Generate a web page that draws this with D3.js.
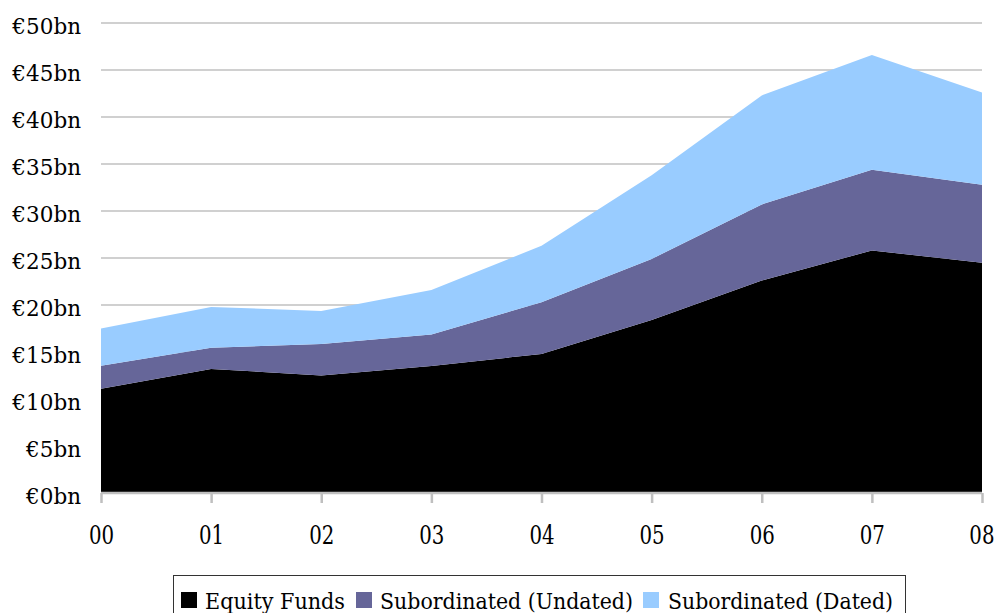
<!DOCTYPE html>
<html>
<head>
<meta charset="utf-8">
<script src="https://cdn.jsdelivr.net/npm/d3@7/dist/d3.min.js"></script>
<style>
  html, body { margin: 0; padding: 0; background: #fff; }
  svg { display: block; }
  text { font-family: "DejaVu Serif", serif; fill: #000; }
</style>
</head>
<body>
<svg id="chart" width="997" height="613"></svg>
<script>
// ---- data ----
const categories = ["00", "01", "02", "03", "04", "05", "06", "07", "08"];
const seriesNames = ["Equity Funds", "Subordinated (Undated)", "Subordinated (Dated)"];
const equityFunds = [11.1, 13.2, 12.5, 13.5, 14.8, 18.4, 22.6, 25.8, 24.5];
const subUndated  = [2.45, 2.25, 3.35, 3.35, 5.5, 6.5, 8.1, 8.6, 8.3];
const subDated    = [3.95, 4.35, 3.5, 4.75, 6.0, 8.9, 11.6, 12.2, 9.8];
const yTicks = [0, 5, 10, 15, 20, 25, 30, 35, 40, 45, 50];
const colors = ["#000000", "#666699", "#99ccff"];

// ---- layout ----
const svg = d3.select("#chart");
const mLeft = 101, mRight = 982, mTop = 23, mBottom = 493;

const x = d3.scalePoint().domain(categories).range([mLeft, mRight]);
const y = d3.scaleLinear().domain([0, 50]).range([mBottom, mTop]);

const rows = categories.map((c, i) => ({
  cat: c,
  [seriesNames[0]]: equityFunds[i],
  [seriesNames[1]]: subUndated[i],
  [seriesNames[2]]: subDated[i]
}));
const stacked = d3.stack().keys(seriesNames)(rows);

// gridlines
svg.append("g")
  .selectAll("line")
  .data(yTicks.filter(t => t > 0))
  .join("line")
  .attr("x1", mLeft).attr("x2", mRight)
  .attr("y1", d => y(d)).attr("y2", d => y(d))
  .attr("stroke", "#c0c0c0").attr("stroke-width", 1.5);

// areas
const area = d3.area()
  .x(d => x(d.data.cat))
  .y0(d => y(d[0]))
  .y1(d => y(d[1]));

svg.append("g")
  .selectAll("path")
  .data(stacked)
  .join("path")
  .attr("d", area)
  .attr("fill", (d, i) => colors[i]);

// y axis labels
const yAxis = d3.axisLeft(y).tickValues(yTicks).tickSize(0).tickPadding(20)
  .tickFormat(d => "€" + d + "bn");
const gy = svg.append("g").attr("transform", `translate(${mLeft},0)`).call(yAxis);
gy.select(".domain").remove();
gy.selectAll("text")
  .attr("font-family", "DejaVu Serif, serif")
  .attr("font-size", 21.5)
  .attr("fill", "#000")
  .attr("x", -20)
  .attr("dy", "0.5em");

// x axis
const xAxis = d3.axisBottom(x).tickSize(10).tickPadding(8).tickSizeOuter(0);
const gx = svg.append("g").attr("transform", `translate(0,${mBottom})`).call(xAxis);
gx.select(".domain").attr("stroke", "#bfbfbf").attr("stroke-width", 2.5)
  .attr("d", `M${mLeft},0H${mRight}`);
gx.selectAll(".tick line").attr("stroke", "#bfbfbf").attr("stroke-width", 2.5);
gx.selectAll(".tick text")
  .attr("font-family", "DejaVu Serif, serif")
  .attr("font-size", 26)
  .attr("fill", "#000")
  .attr("x", 0)
  .attr("y", 0)
  .attr("dy", 0)
  .attr("transform", "translate(0,51) scale(0.76,1)");
// keep the last label inside the frame, as in the reference
gx.selectAll(".tick").filter(d => d === categories[categories.length - 1])
  .select("text").attr("text-anchor", "end")
  .attr("transform", "translate(12,51) scale(0.76,1)");

// legend
const legendItems = [
  { name: seriesNames[0], color: colors[0], sx: 181, tx: 205, tw: 140 },
  { name: seriesNames[1], color: colors[1], sx: 356, tx: 380, tw: 253 },
  { name: seriesNames[2], color: colors[2], sx: 643, tx: 668, tw: 225 }
];
const lg = svg.append("g");
lg.append("rect")
  .attr("x", 173.5).attr("y", 575.5).attr("width", 732).attr("height", 50)
  .attr("fill", "#fff").attr("stroke", "#333").attr("stroke-width", 1);
lg.selectAll("rect.sw")
  .data(legendItems)
  .join("rect")
  .attr("class", "sw")
  .attr("x", d => d.sx).attr("y", 592).attr("width", 16).attr("height", 16)
  .attr("fill", d => d.color);
lg.selectAll("text")
  .data(legendItems)
  .join("text")
  .attr("x", d => d.tx).attr("y", 609)
  .attr("font-size", 23)
  .attr("textLength", d => d.tw)
  .attr("lengthAdjust", "spacingAndGlyphs")
  .text(d => d.name);
</script>
</body>
</html>
